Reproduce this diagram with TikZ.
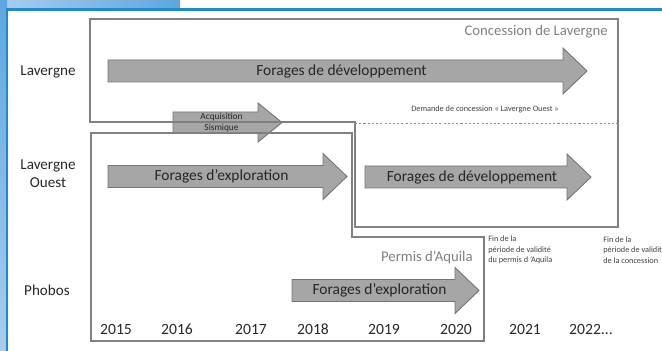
\documentclass[tikz,border=0pt]{standalone}
\usepackage{fontspec}
\setmainfont{Carlito}
\definecolor{frameblue}{HTML}{1B8AD3}
\definecolor{paleblue}{HTML}{A9CDEE}
\definecolor{midblue}{HTML}{5EA6DD}
\newcommand{\timearrow}[6][]{%
	\path[arr] (#3,{#5-\bh}) -- ({#4-\hl},{#5-\bh}) -- ({#4-\hl},{#5-\hh}) -- (#4,#5) -- ({#4-\hl},{#5+\hh}) -- ({#4-\hl},{#5+\bh}) -- (#3,{#5+\bh}) -- cycle;
	\node[atxt,#1] (#2) at ({(#3+#4)/2-6},#5) {#6};
}
\begin{document}
\begin{tikzpicture}[x=0.02cm,y=-0.02cm,>=latex]
	\tikzstyle{lbl}=[font=\fontsize{8.6}{10.2}\selectfont,text=black!85,align=center,inner sep=0pt]
	\tikzstyle{yr}=[font=\fontsize{8.9}{10}\selectfont,text=black!85,inner sep=0pt]
	\tikzstyle{boxline}=[draw=black!50,line width=0.8pt]
	\tikzstyle{ttl}=[font=\fontsize{8.4}{10}\selectfont,text=black!50,inner sep=0pt]
	\tikzstyle{arr}=[fill=black!35,draw=black!55,line width=0.5pt]
	\tikzstyle{atxt}=[font=\fontsize{8.8}{10}\selectfont,text=black!85,align=center,inner sep=0pt]
	\tikzstyle{tiny}=[font=\fontsize{4.7}{5.9}\selectfont,text=black!75,align=left,inner sep=0pt]

\useasboundingbox (0,0) rectangle (662,351);
\clip (0,0) rectangle (662,351);
\shade[left color=paleblue,right color=midblue] (0,0) rectangle (180,9);
\shade[top color=midblue,bottom color=paleblue] (0,0) rectangle (7,351);
\draw[frameblue,line width=1.2pt] (7,351) -- (7,9.5) -- (662,9.5);

\def\bh{11}\def\hh{23}\def\hl{24}
\timearrow{devlav}{108}{587}{71}{Forages de développement}
\timearrow{explavo}{108}{347}{176.5}{Forages d’exploration}
\timearrow{devlavo}{365}{591}{177}{Forages de développement}
\timearrow{exppho}{292}{479}{290.5}{Forages d’exploration}
\def\bh{10.5}\def\hh{19.5}
\timearrow[font=\fontsize{5.3}{6.2}\selectfont]{acq}{173}{282}{122.5}{Acquisition\\Sismique}

\draw[boxline] (90,19) -- (618,19) -- (618,227) -- (355,227) -- (355,122) -- (90,122) -- cycle;
\draw[boxline] (91,133) -- (352,133) -- (352,237) -- (484,237) -- (484,341) -- (91,341) -- cycle;
\draw[black!45,dash pattern=on 1.2pt off 1.2pt,line width=0.4pt] (355,123) -- (618,123);

\node[ttl,anchor=east] (concession) at (608,32) {Concession de Lavergne};
\node[ttl,anchor=east] (permis) at (473,257) {Permis d’Aquila};
\node[tiny] (demande) at (485,109) {Demande de concession « Lavergne Ouest »};
\node[tiny,anchor=west] (finpermis) at (488,250) {Fin de la\\période de validité\\du permis d ’Aquila};
\node[tiny,anchor=west] (finconc) at (603,250) {Fin de la\\période de validité\\de la concession};

\node[lbl] (lav) at (48,72) {Lavergne};
\node[lbl] (lavo) at (48,174) {Lavergne\\Ouest};
\node[lbl] (pho) at (47,290) {Phobos};

\foreach \x/\yr [count=\i] in {116/2015,177/2016,251/2017,313/2018,384/2019,456/2020,525/2021}
	\node[yr] (yr\i) at (\x,329) {\yr};
\node[yr] (yr8) at (591,329) {2022...};

\end{tikzpicture}
\end{document}
